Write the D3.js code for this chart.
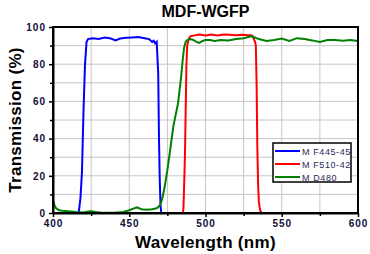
<!DOCTYPE html>
<html lang="en">
<head>
  <script src="https://d3js.org/d3.v7.min.js"></script>
  <style>
    body { margin: 0; background: #fff; }
    text { font-family: Arial, "Liberation Sans", sans-serif; }
  </style>
</head>
<body>
  <script>
    // data
    const blueWl = [400, 410, 416, 417, 418, 419, 420, 421, 422, 423, 426, 430, 434, 438, 441, 444, 448, 452, 456, 460, 463, 465, 466, 467, 468, 469, 469.5, 470, 470.5, 471, 480, 500, 550, 600];
    const blueT  = [0, 0, 0, 1, 8, 22, 55, 80, 92, 93.5, 94, 93.6, 94.4, 93.8, 92.8, 93.8, 94.2, 94.4, 94.6, 94, 93.5, 92, 92.6, 91.2, 92, 75, 40, 18, 4, 0, 0, 0, 0, 0];

    const redWl = [400, 485, 485.5, 486, 486.5, 487, 487.5, 488, 489, 490, 493, 496, 500, 504, 508, 512, 516, 520, 524, 528, 530, 531, 532, 532.5, 533, 533.5, 534, 534.5, 535, 535.5, 536, 537, 540, 600];
    const redT  = [0, 0, 2, 15, 30, 55, 80, 90, 93.5, 95, 95.5, 96, 95.5, 96, 95.5, 96, 95.8, 95.5, 95.8, 95.5, 95.5, 95, 93, 92, 90, 70, 35, 15, 6, 3, 1, 0, 0, 0];

    const greenWl = [400, 401, 402, 404, 406, 410, 415, 420, 423, 425, 428, 432, 440, 446, 450, 453, 455, 458, 461, 465, 468, 470, 471, 472, 473, 474, 475, 476, 477, 478, 479, 480, 481, 482, 483, 484, 485, 486, 487, 488, 490, 492, 494, 496, 498, 500, 503, 506, 510, 515, 520, 525, 530, 532, 535, 540, 545, 550, 555, 560, 565, 570, 575, 580, 585, 590, 595, 600];
    const greenT  = [7, 4, 2.5, 1.5, 1.2, 1, 0.5, 0.3, 0.8, 1, 0.5, 0.2, 0.2, 0.5, 1.5, 2.5, 3, 2, 1.8, 2, 2.5, 4, 6, 9, 13, 18, 23, 29, 35, 41, 47, 51, 55, 59, 66, 73, 82, 89, 92, 93, 93.5, 93, 92, 91.5, 92.5, 93, 93, 92.5, 93, 92.8, 93.5, 94, 95, 94.5, 93.5, 92.5, 93, 93.8, 92.5, 94, 93.5, 92.8, 92, 93, 93, 92.6, 93, 92.5];

    const seriesNames = ["M F445-45", "M F510-42", "M D480"];
    const xTicks = [400, 450, 500, 550, 600];
    const yTicks = [0, 20, 40, 60, 80, 100];

    const W = 370, H = 254;
    const pL = 53, pR = 358, pT = 27, pB = 213;

    const svg = d3.select("body").append("svg")
      .attr("width", W).attr("height", H);

    const x = d3.scaleLinear().domain([400, 600]).range([pL, pR]);
    const y = d3.scaleLinear().domain([0, 100]).range([pB, pT]);

    // grid
    svg.append("g").selectAll("line")
      .data(d3.range(425, 600, 25))
      .join("line")
      .attr("x1", d => x(d)).attr("x2", d => x(d))
      .attr("y1", pT).attr("y2", pB)
      .attr("stroke", "#c6c6c6").attr("stroke-width", 1);
    svg.append("g").selectAll("line")
      .data(d3.range(10, 100, 10))
      .join("line")
      .attr("y1", d => y(d)).attr("y2", d => y(d))
      .attr("x1", pL).attr("x2", pR)
      .attr("stroke", "#c6c6c6").attr("stroke-width", 1);

    // curves: blue under red, green on top
    const line = d3.line().x(d => x(d[0])).y(d => y(d[1]));
    const curves = [
      { wl: blueWl, t: blueT, color: "#0000ff" },
      { wl: redWl, t: redT, color: "#ff0000" },
      { wl: greenWl, t: greenT, color: "#008000" }
    ];
    curves.forEach(c => {
      svg.append("path")
        .datum(c.wl.map((w, i) => [w, c.t[i]]))
        .attr("fill", "none")
        .attr("stroke", c.color)
        .attr("stroke-width", 2)
        .attr("d", line);
    });

    // frame
    svg.append("rect")
      .attr("x", pL).attr("y", pT)
      .attr("width", pR - pL).attr("height", pB - pT)
      .attr("fill", "none").attr("stroke", "#000").attr("stroke-width", 2);

    // axes
    const tickColor = "#10103a";
    const xAxis = svg.append("g")
      .attr("transform", `translate(0,${pB})`)
      .call(d3.axisBottom(x).tickValues(xTicks).tickSize(4).tickSizeOuter(0).tickPadding(3));
    svg.append("g")
      .attr("transform", `translate(0,${pB})`)
      .call(d3.axisBottom(x).tickValues(d3.range(425, 600, 50)).tickSize(3).tickFormat(""))
      .select(".domain").remove();
    const yAxis = svg.append("g")
      .attr("transform", `translate(${pL},0)`)
      .call(d3.axisLeft(y).tickValues(yTicks).tickSize(4).tickSizeOuter(0).tickPadding(3));
    svg.append("g")
      .attr("transform", `translate(${pL},0)`)
      .call(d3.axisLeft(y).tickValues(d3.range(10, 100, 20)).tickSize(3).tickFormat(""))
      .select(".domain").remove();

    svg.selectAll(".tick line").attr("stroke", "#000").attr("stroke-width", 1.5);
    svg.selectAll(".domain").attr("stroke", "#000").attr("stroke-width", 2);
    [xAxis, yAxis].forEach(a => a.selectAll(".tick text")
      .attr("fill", tickColor)
      .style("font-size", "10px")
      .style("font-weight", "bold")
      .style("letter-spacing", "1px"));

    // titles
    svg.append("text")
      .attr("x", (pL + pR) / 2).attr("y", 17)
      .attr("text-anchor", "middle")
      .style("font-size", "16px").style("font-weight", "bold")
      .text("MDF-WGFP");
    svg.append("text")
      .attr("x", (pL + pR) / 2).attr("y", 248)
      .attr("text-anchor", "middle")
      .style("font-size", "17px").style("font-weight", "bold")
      .style("letter-spacing", "0.3px")
      .text("Wavelength (nm)");
    svg.append("text")
      .attr("transform", `translate(21,${(pT + pB) / 2}) rotate(-90)`)
      .attr("text-anchor", "middle")
      .style("font-size", "17px").style("font-weight", "bold")
      .style("letter-spacing", "0.3px")
      .text("Transmission (%)");

    // legend
    const lg = svg.append("g").attr("transform", "translate(273,143)");
    lg.append("rect")
      .attr("width", 78).attr("height", 39)
      .attr("fill", "#fff").attr("stroke", "#000").attr("stroke-width", 1.5);
    seriesNames.forEach((name, i) => {
      const yy = 8 + i * 13;
      lg.append("line")
        .attr("x1", 2).attr("x2", 27).attr("y1", yy).attr("y2", yy)
        .attr("stroke", curves[i].color)
        .attr("stroke-width", 2);
      lg.append("text")
        .attr("x", 29).attr("y", yy + 3.5)
        .attr("fill", "#2a2a5a")
        .style("font-size", "9px")
        .style("letter-spacing", "0.6px")
        .text(name);
    });
  </script>
</body>
</html>
